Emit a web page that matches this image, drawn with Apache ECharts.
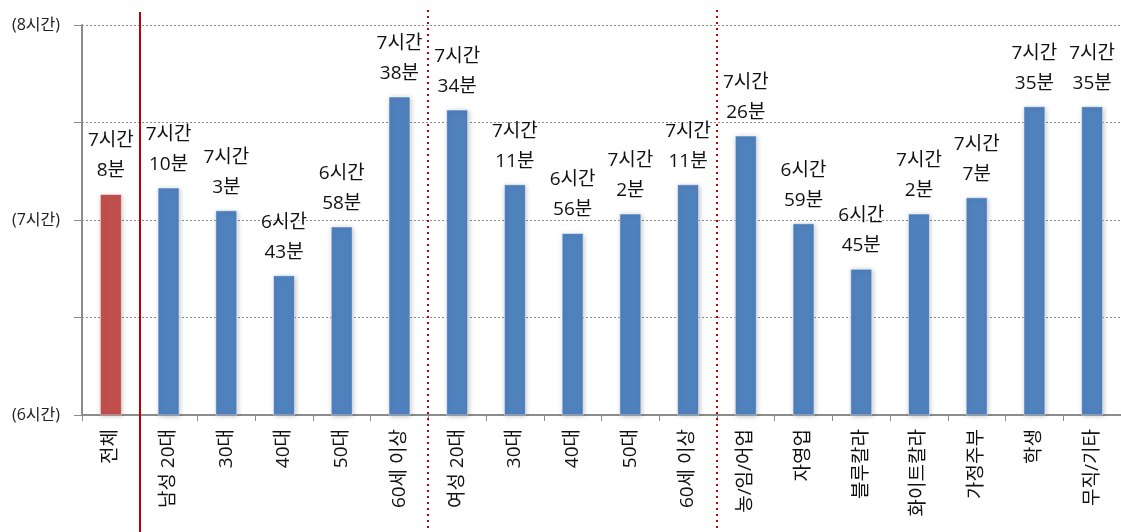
<!DOCTYPE html>
<html>
<head>
<meta charset="utf-8">
<script src="https://cdn.jsdelivr.net/npm/echarts@6/dist/echarts.min.js"></script>
<style>
  html, body { margin: 0; padding: 0; background: #fff; }
  #chart { width: 1121px; height: 532px; }
</style>
</head>
<body>
<div id="chart"></div>
<script>
// 하루 평균 수면시간 (분)
var categories = ["전체", "남성 20대", "30대", "40대", "50대", "60세 이상",
  "여성 20대", "30대", "40대", "50대", "60세 이상",
  "농/임/어업", "자영업", "블루칼라", "화이트칼라", "가정주부", "학생", "무직/기타"];
var minutes = [428, 430, 423, 403, 418, 458, 454, 431, 416, 422, 431, 446, 419, 405, 422, 427, 455, 455];
// group boundaries: after these category indexes
var solidAfter = [0];
var dottedAfter = [5, 10];

var font = "'Open Sans', 'Noto Sans CJK KR', sans-serif";
var chart = echarts.init(document.getElementById("chart"));

function hm(v) {
  return Math.floor(v / 60) + "시간\n" + (v % 60) + "분";
}

var option = {
  backgroundColor: "#ffffff",
  animation: false,
  grid: { left: 82, right: 0, top: 25, bottom: 117 },
  xAxis: {
    type: "category",
    data: categories,
    axisLine: { lineStyle: { color: "#8c8c8c", width: 2 } },
    axisTick: { show: true, length: 6, lineStyle: { color: "#8c8c8c" } },
    axisLabel: {
      rotate: 90,
      interval: 0,
      margin: 14,
      color: "#111",
      fontSize: 19,
      fontFamily: font
    }
  },
  yAxis: {
    type: "value",
    min: 360,
    max: 480,
    interval: 30,
    axisLine: { show: true, lineStyle: { color: "#8c8c8c", width: 2 } },
    axisTick: { show: true, length: 8, lineStyle: { color: "#8c8c8c" } },
    splitLine: { lineStyle: { color: "#8a8a8a", type: [2, 2], width: 1 } },
    axisLabel: {
      margin: 22,
      color: "#222",
      fontSize: 16,
      fontFamily: font,
      formatter: function (v) {
        return v % 60 === 0 ? "(" + (v / 60) + "시간)" : "";
      }
    }
  },
  series: [{
    type: "bar",
    barWidth: 22,
    data: minutes.map(function (v, i) {
      return {
        value: v,
        itemStyle: { color: i === 0 ? "#C0504D" : "#4F81BD" }
      };
    }),
    itemStyle: {
      borderColor: "rgba(255,255,255,0.5)",
      borderWidth: 1,
      shadowBlur: 5,
      shadowColor: "rgba(0,0,0,0.25)",
      shadowOffsetX: 1,
      shadowOffsetY: 1
    },
    label: {
      show: true,
      position: "top",
      distance: 8,
      color: "#111",
      fontSize: 19,
      lineHeight: 30,
      fontFamily: font,
      formatter: function (p) { return hm(p.value); }
    }
  }]
};
chart.setOption(option);

function boundaryX(i) {
  var a = chart.convertToPixel({ xAxisIndex: 0 }, i);
  var b = chart.convertToPixel({ xAxisIndex: 0 }, i + 1);
  return Math.round((a + b) / 2);
}
var lines = [];
solidAfter.forEach(function (i) {
  var x = boundaryX(i);
  lines.push({
    type: "line", z: 100,
    shape: { x1: x, y1: 12, x2: x, y2: 532 },
    style: { stroke: "#C00000", lineWidth: 2 }
  });
});
dottedAfter.forEach(function (i) {
  var x = boundaryX(i);
  lines.push({
    type: "line", z: 100,
    shape: { x1: x, y1: 10, x2: x, y2: 532 },
    style: { stroke: "#C00000", lineWidth: 2, lineDash: [2, 4] }
  });
});
chart.setOption({ graphic: lines });
</script>
</body>
</html>
